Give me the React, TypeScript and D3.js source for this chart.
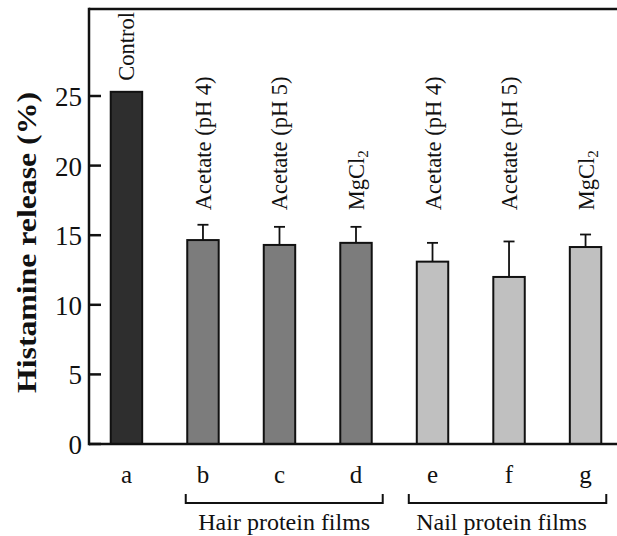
import React from "react";
import * as d3 from "d3";

const categories = ["a", "b", "c", "d", "e", "f", "g"];
const values = [25.3, 14.65, 14.3, 14.45, 13.1, 12.0, 14.15];
const errors = [0, 1.1, 1.3, 1.15, 1.35, 2.55, 0.9];
const barLabels = ["Control", "Acetate (pH 4)", "Acetate (pH 5)", "MgCl|2", "Acetate (pH 4)", "Acetate (pH 5)", "MgCl|2"];
const barGroup = [0, 1, 1, 1, 2, 2, 2];
const groupColors = ["#2e2e2e", "#7c7c7c", "#c0c0c0"];
const groups = [
  { name: "Hair protein films", first: "b", last: "d" },
  { name: "Nail protein films", first: "e", last: "g" },
];
const yTicks = [0, 5, 10, 15, 20, 25];
const yLabel = "Histamine release (%)";

const W = 617;
const H = 536;
const FONT = "'Liberation Serif', 'Times New Roman', serif";

export default function App() {
  const left = 89;
  const top = 9;
  const bottom = 444;
  const right = 617;

  const x = d3.scaleBand<string>().domain(categories).range([89, 623]).paddingInner(0.589).paddingOuter(0.284);
  const y = d3.scaleLinear().domain([0, 31.25]).range([bottom, top]);
  const bw = x.bandwidth();

  return (
    <svg width={W} height={H} style={{ position: "absolute", left: 0, top: 0, background: "#fff" }} fontFamily={FONT}>
      <rect width={W} height={H} fill="#fff" />
      {/* bars */}
      {categories.map((c, i) => {
        const x0 = x(c)!;
        const cx = x0 + bw / 2;
        const yt = y(values[i]);
        return (
          <g key={c}>
            {errors[i] > 0 && (
              <g stroke="#111" strokeWidth={1.8}>
                <line x1={cx} x2={cx} y1={yt} y2={y(values[i] + errors[i])} />
                <line x1={cx - 5.5} x2={cx + 5.5} y1={y(values[i] + errors[i])} y2={y(values[i] + errors[i])} />
              </g>
            )}
            <rect x={x0} y={yt} width={bw} height={bottom - yt} fill={groupColors[barGroup[i]]} stroke="#111" strokeWidth={2} />
          </g>
        );
      })}
      {/* rotated bar labels */}
      {categories.map((c, i) => {
        const cx = x(c)! + bw / 2 + 8;
        const ys = i === 0 ? y(values[i]) - 11 : y(16.8);
        const parts = barLabels[i].split("|");
        return (
          <text key={"l" + c} transform={`translate(${cx},${ys}) rotate(-90)`} fontSize={22.5} fill="#111" textAnchor="start">
            {parts[0]}
            {parts[1] && (
              <tspan dy={4} fontSize={15}>
                {parts[1]}
              </tspan>
            )}
          </text>
        );
      })}
      {/* frame */}
      <g stroke="#111" strokeWidth={2.5} fill="none">
        <line x1={left} x2={right} y1={top} y2={top} />
        <line x1={left} x2={left} y1={top - 1.25} y2={bottom + 1.25} />
        <line x1={left} x2={right} y1={bottom} y2={bottom} />
      </g>
      {/* y ticks */}
      {yTicks.map((t) => (
        <g key={"t" + t}>
          <line x1={left} x2={left + 12} y1={y(t)} y2={y(t)} stroke="#111" strokeWidth={2.5} />
          <text x={82} y={y(t) + 10} fontSize={27} textAnchor="end" fill="#111">
            {t}
          </text>
        </g>
      ))}
      {/* y label */}
      <text
        transform={`translate(36,${242.5}) rotate(-90)`}
        fontSize={28}
        fontWeight="bold"
        textAnchor="middle"
        fill="#111"
        textLength={301}
        lengthAdjust="spacingAndGlyphs"
      >
        {yLabel}
      </text>
      {/* x category labels */}
      {categories.map((c) => (
        <text key={"x" + c} x={x(c)! + bw / 2} y={483} fontSize={25} textAnchor="middle" fill="#111">
          {c}
        </text>
      ))}
      {/* group brackets */}
      {groups.map((g, gi) => {
        const x1 = x(g.first)! - (gi === 0 ? 1.5 : 8);
        const x2 = x(g.last)! + bw + (gi === 0 ? 11 : 5);
        const mid = (x1 + x2) / 2 + (gi === 0 ? 0 : -6);
        return (
          <g key={g.name}>
            <path d={`M${x1},494 V503 H${x2} V494`} fill="none" stroke="#111" strokeWidth={2} />
            <text x={mid} y={529.5} fontSize={24} textAnchor="middle" fill="#111">
              {g.name}
            </text>
          </g>
        );
      })}
    </svg>
  );
}
